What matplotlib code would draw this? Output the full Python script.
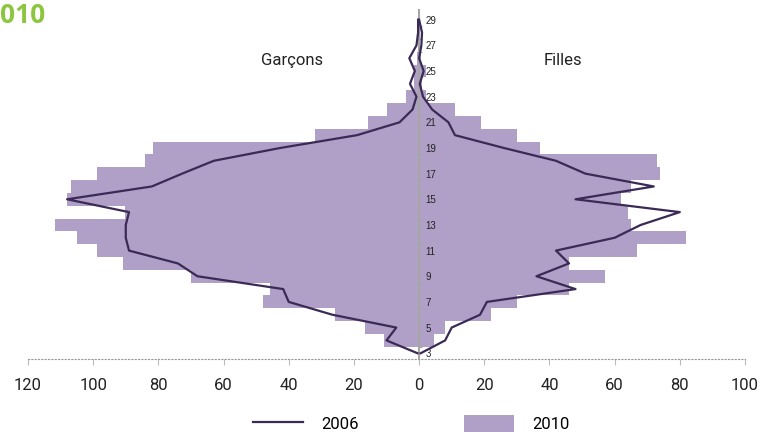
import numpy as np
import matplotlib
matplotlib.use("Agg")
import matplotlib.pyplot as plt
from matplotlib.ticker import FixedLocator

ages = list(range(3, 30))

# 2010 bars (counts)
girls_2010 = [0, 4.5, 8, 22, 30, 46, 57, 46, 67, 82, 65, 64, 62, 65, 74, 73,
              37, 30, 19, 11, 2, 1, 2, 0.5, 0, 0, 0]
boys_2010 = [0, 10.7, 16.7, 25.8, 47.8, 45.8, 69.9, 90.9, 98.8, 104.9, 111.8, 90.1,
             108, 106.7, 98.8, 84, 81.7, 31.8, 15.7, 10, 4, 1.5, 1.5, 0.5, 0, 0, 0]

# 2006 line (counts)
girls_2006 = [0.5, 8, 10, 18.7, 20.8, 48, 36, 46, 42, 60, 68, 80, 48, 72, 51, 42,
              26, 11, 9, 4, 1.2, 0.2, 1.4, 0, 0.7, 0.9, 0]
boys_2006 = [0.5, 10, 7, 26.6, 40, 41.7, 68, 74, 89, 90, 90, 89, 108, 82, 72.7, 63,
             42.6, 19, 6, 2, 0.8, 2.8, 1.3, 3, 0.8, 0.3, 0.3]

xticks = [-120, -100, -80, -60, -40, -20, 0, 20, 40, 60, 80, 100]
xtick_labels = ["120", "100", "80", "60", "40", "20", "0", "20", "40", "60", "80", "100"]
age_labels = [3, 5, 7, 9, 11, 13, 15, 17, 19, 21, 23, 25, 27, 29]

bar_color = "#b0a0c8"
line_color = "#3b2a55"
font_main = ["Roboto", "DejaVu Sans"]

fig = plt.figure(figsize=(7.71, 4.32), dpi=100)
ax = fig.add_axes([0.0363, 0.169, 0.930, 0.808])

ax.barh(ages, girls_2010, height=1.0, color=bar_color, linewidth=0, zorder=1)
ax.barh(ages, [-v for v in boys_2010], height=1.0, color=bar_color, linewidth=0,
        zorder=1, label="2010")
ax.plot(girls_2006, ages, color=line_color, lw=1.6, zorder=3)
ax.plot([-v for v in boys_2006], ages, color=line_color, lw=1.6, zorder=3, label="2006")

ax.set_xlim(-120, 100)
ax.set_ylim(2.55, 29.76)

# spines
for s in ["top", "left"]:
    ax.spines[s].set_visible(False)
ax.spines["right"].set_position(("data", 0))
ax.spines["right"].set_color("#a6a6a6")
ax.spines["right"].set_linewidth(1.5)
ax.spines["right"].set_zorder(2)
ax.spines["bottom"].set_linestyle((0, (1, 2)))
ax.spines["bottom"].set_color("#999999")
ax.spines["bottom"].set_linewidth(0.8)

# x axis
ax.set_xticks(xticks)
ax.set_xticklabels(xtick_labels, fontfamily=font_main, fontsize=12, color="#222222")
ax.tick_params(axis="x", length=4, width=0.8, color="#bbbbbb", pad=10)

# y axis on the centre line
ax.yaxis.set_ticks_position("right")
ax.set_yticks(age_labels)
ax.set_yticklabels([str(a) for a in age_labels], fontfamily=["Liberation Sans", "DejaVu Sans"],
                   fontsize=7, color="#222222")
ax.yaxis.set_minor_locator(FixedLocator(np.arange(3.5, 29, 1.0)))
ax.tick_params(axis="y", which="major", length=0, pad=4.5)
ax.tick_params(axis="y", which="minor", length=2.5, width=0.8, color="#a6a6a6")

ax.text(-39, 25.8, "Garçons", ha="center", va="center", fontsize=12,
        fontfamily=font_main, color="#222222")
ax.text(44, 25.8, "Filles", ha="center", va="center", fontsize=12,
        fontfamily=font_main, color="#222222")

fig.text(0.0, 0.995, "010", ha="left", va="top", fontsize=19, fontweight="bold",
         fontfamily=["Open Sans", "DejaVu Sans"], color="#8cc63f")

handles, labels = ax.get_legend_handles_labels()
order = [labels.index("2006"), labels.index("2010")]
fig.legend([handles[i] for i in order], [labels[i] for i in order],
           loc="center", bbox_to_anchor=(0.533, 0.02), ncol=2, frameon=False,
           prop={"family": font_main, "size": 12}, handlelength=3.0,
           handleheight=1.2, handletextpad=1.1, columnspacing=6.3)

fig.savefig("out.png", dpi=100)
